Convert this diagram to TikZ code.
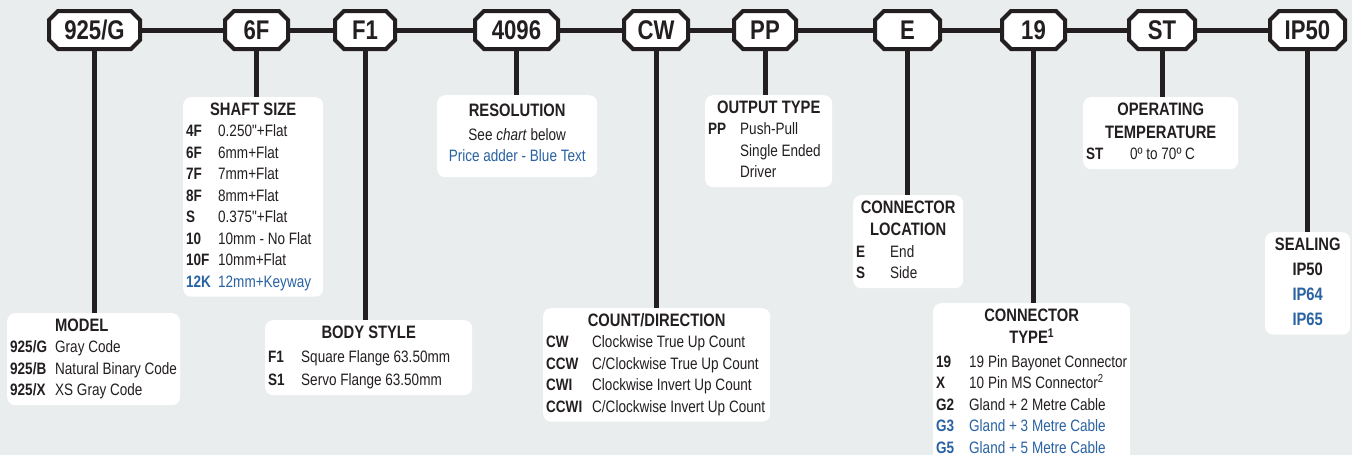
\documentclass[tikz,border=0pt]{standalone}
\usepackage{fontspec}
\setmainfont{Liberation Sans}[FakeStretch=0.82]
\newfontfamily\plainquote{Liberation Sans}[FakeStretch=0.82]

\definecolor{ink}{HTML}{231F20}
\definecolor{adder}{HTML}{2962A2}
\definecolor{paper}{HTML}{EAEDEE}

\setlength{\tabcolsep}{0pt}
\newcommand{\boxtitle}[1]{{\fontsize{18}{21.5}\selectfont\bfseries #1}}
\newcommand{\head}[2]{\multicolumn{2}{c}{\makebox[#1][c]{\boxtitle{#2}}}}
\newcommand{\inch}{{\plainquote"}}

% Octagonal code tag: name, centre x, width, code
\newcommand{\codetag}[4]{%
  \draw[tagframe] ({#2-#3/2+9},11) -- ({#2+#3/2-9},11) -- ({#2+#3/2},20)
    -- ({#2+#3/2},40) -- ({#2+#3/2-9},49) -- ({#2-#3/2+9},49)
    -- ({#2-#3/2},40) -- ({#2-#3/2},20) -- cycle;
  \node[codetag, minimum width=#3pt] (#1 tag) at (#2,30) {#4};}

\begin{document}
\begin{tikzpicture}[x=1pt, y=-1pt,
  tagframe/.style={draw=ink, line width=4pt, fill=white, line join=miter},
  codetag/.style={inner sep=0pt, minimum height=38pt, text=ink,
    font=\fontsize{27}{27}\selectfont\bfseries},
  infobox/.style={fill=white, rounded corners=8pt, anchor=north west,
    inner sep=3pt, text=ink, font=\fontsize{16.5}{21.5}\selectfont},
  link/.style={draw=ink, line width=5pt}]

  % Page and background
  \useasboundingbox (0,0) rectangle (1352,455);
  \fill[paper] (0,0) rectangle (1352,455);

  % The code tags along the top
  \codetag{model}{94.5}{91}{925/G}
  \codetag{shaft}{256.5}{63}{6F}
  \codetag{body}{365}{60}{F1}
  \codetag{res}{516.5}{83}{4096}
  \codetag{count}{656}{64}{CW}
  \codetag{output}{765}{62}{PP}
  \codetag{loc}{907.5}{65}{E}
  \codetag{type}{1033.5}{63}{19}
  \codetag{temp}{1162}{66}{ST}
  \codetag{seal}{1307.5}{75}{IP50}

  % Links between the tags
  \draw[link] (model tag) -- (shaft tag);
  \draw[link] (shaft tag) -- (body tag);
  \draw[link] (body tag) -- (res tag);
  \draw[link] (res tag) -- (count tag);
  \draw[link] (count tag) -- (output tag);
  \draw[link] (output tag) -- (loc tag);
  \draw[link] (loc tag) -- (type tag);
  \draw[link] (type tag) -- (temp tag);
  \draw[link] (temp tag) -- (seal tag);

  % Option boxes
  \node[infobox] (model box) at (7,313) {\begin{tabular}{p{45pt}l}
    \multicolumn{2}{l}{\hspace{45pt}\boxtitle{MODEL}}\\
    \textbf{925/G} & Gray Code\\
    \textbf{925/B} & Natural Binary Code\\
    \textbf{925/X} & XS Gray Code
  \end{tabular}};

  \node[infobox] (shaft box) at (183,97) {\begin{tabular}{p{32pt}l}
    \head{134pt}{SHAFT SIZE}\\
    \textbf{4F} & 0.250\inch+Flat\\
    \textbf{6F} & 6mm+Flat\\
    \textbf{7F} & 7mm+Flat\\
    \textbf{8F} & 8mm+Flat\\
    \textbf{S} & 0.375\inch+Flat\\
    \textbf{10} & 10mm - No Flat\\
    \textbf{10F} & 10mm+Flat\\
    \textcolor{adder}{\textbf{12K}} & \textcolor{adder}{12mm+Keyway}
  \end{tabular}};

  \node[infobox] (body box) at (265,320) {\begin{tabular}{p{33pt}l}
    \head{201pt}{BODY STYLE}\\[3pt]
    \textbf{F1} & Square Flange 63.50mm\\[1.5pt]
    \textbf{S1} & Servo Flange 63.50mm
  \end{tabular}};

  \node[infobox] (res box) at (437,95) {\begin{tabular}{c}
    \makebox[154pt][c]{\rule{0pt}{18pt}\boxtitle{RESOLUTION}}\\[2.5pt]
    See \textit{chart} below\\
    \textcolor{adder}{Price adder - Blue Text}\\[6pt]
  \end{tabular}};

  \node[infobox] (count box) at (543,308) {\begin{tabular}{p{46pt}l}
    \head{221pt}{COUNT/DIRECTION}\\
    \textbf{CW} & Clockwise True Up Count\\
    \textbf{CCW} & C/Clockwise True Up Count\\
    \textbf{CWI} & Clockwise Invert Up Count\\
    \textbf{CCWI} & C/Clockwise Invert Up Count
  \end{tabular}};

  \node[infobox] (output box) at (705,95) {\begin{tabular}{p{32pt}l}
    \head{121pt}{OUTPUT TYPE}\\
    \textbf{PP} & Push-Pull\\
     & Single Ended\\
     & Driver
  \end{tabular}};

  \node[infobox] (loc box) at (853,195) {\begin{tabular}{p{34pt}l}
    \head{104pt}{CONNECTOR}\\[1pt]
    \head{104pt}{LOCATION}\\
    \textbf{E} & End\\
    \textbf{S} & Side
  \end{tabular}};

  \node[infobox] (type box) at (933,303) {\begin{tabular}{p{33pt}l}
    \head{191pt}{CONNECTOR}\\[1pt]
    \head{191pt}{TYPE\textsuperscript{1}}\\[2pt]
    \textbf{19} & 19 Pin Bayonet Connector\\
    \textbf{X} & 10 Pin MS Connector\textsuperscript{2}\\
    \textbf{G2} & Gland + 2 Metre Cable\\
    \textcolor{adder}{\textbf{G3}} & \textcolor{adder}{Gland + 3 Metre Cable}\\
    \textcolor{adder}{\textbf{G5}} & \textcolor{adder}{Gland + 5 Metre Cable}\\[6pt]
  \end{tabular}};

  \node[infobox] (temp box) at (1083,97) {\begin{tabular}{p{44pt}l}
    \head{149pt}{OPERATING}\\[1.5pt]
    \head{149pt}{TEMPERATURE}\\
    \textbf{ST} & 0º to 70º C
  \end{tabular}};

  \node[infobox] (seal box) at (1265,232) {\begin{tabular}{c}
    \makebox[79pt][c]{\boxtitle{SEALING}}\\[3.5pt]
    \boxtitle{IP50}\\[3.5pt]
    \textcolor{adder}{\boxtitle{IP64}}\\[3.5pt]
    \textcolor{adder}{\boxtitle{IP65}}
  \end{tabular}};

  % Stems from each tag down to its box
  \draw[link] (model tag.south) -- (model tag.south |- model box.north);
  \draw[link] (shaft tag.south) -- (shaft tag.south |- shaft box.north);
  \draw[link] (body tag.south) -- (body tag.south |- body box.north);
  \draw[link] (res tag.south) -- (res tag.south |- res box.north);
  \draw[link] (count tag.south) -- (count tag.south |- count box.north);
  \draw[link] (output tag.south) -- (output tag.south |- output box.north);
  \draw[link] (loc tag.south) -- (loc tag.south |- loc box.north);
  \draw[link] (type tag.south) -- (type tag.south |- type box.north);
  \draw[link] (temp tag.south) -- (temp tag.south |- temp box.north);
  \draw[link] (seal tag.south) -- (seal tag.south |- seal box.north);

\end{tikzpicture}
\end{document}
